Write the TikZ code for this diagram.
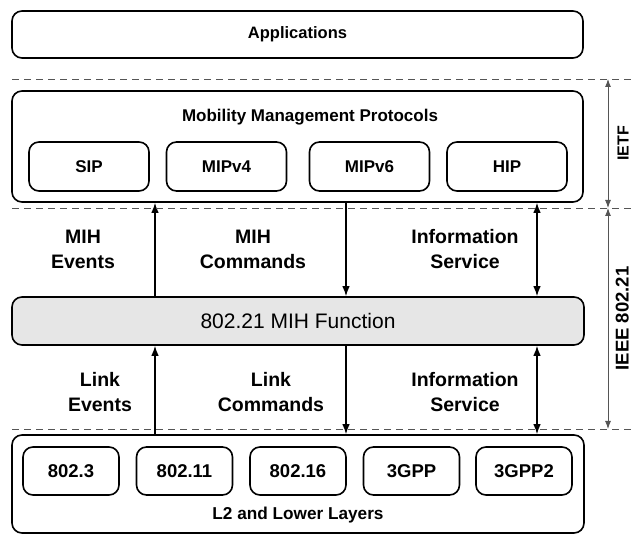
\documentclass[tikz,border=0pt]{standalone}
\usepackage{fontspec}
\setmainfont{Liberation Sans}
\usetikzlibrary{arrows.meta}
\newcommand{\fsz}[2][1.2]{\fontsize{#2bp}{#1\dimexpr #2bp\relax}\selectfont}
\definecolor{mihgray}{HTML}{E6E6E6}
\definecolor{rulegray}{HTML}{555555}

\begin{document}
\begin{tikzpicture}[>={Latex[length=10bp,width=7.5bp]},line join=bevel,
  layerbox/.style={draw,rounded corners=10bp,line width=1.6bp,inner sep=0pt},
  protobox/.style={layerbox,minimum width=120bp,minimum height=49bp,font=\fsz{17}\bfseries},
  linkbox/.style={layerbox,minimum width=96bp,minimum height=48bp,font=\fsz{18.5}\bfseries},
  flowlabel/.style={align=center,font=\fsz[1.28]{19.5}\bfseries,inner sep=0pt},
  flowarrow/.style={line width=1.3bp},
  dashline/.style={dashed,dash pattern=on 7bp off 5bp,line width=0.9bp,draw=rulegray},
  spanarrow/.style={line width=0.9bp,draw=rulegray,{Latex[length=8bp,width=6bp]}-{Latex[length=8bp,width=6bp]}}]
\useasboundingbox (0bp,0bp) rectangle (633bp,534bp);
%%
\node (node_app) at (297.5bp,499.5bp) [layerbox,minimum width=571bp,minimum height=47bp,font=\fsz{16.5}\bfseries] {Applications};
\node (node_mmp) at (297.5bp,387.5bp) [layerbox,minimum width=571bp,minimum height=111bp] {};
  \node (node_mmp_title) at (310bp,417bp) [font=\fsz{17}\bfseries] {Mobility Management Protocols};
  \node (node_sip) at (89bp,367.5bp) [protobox] {SIP};
  \node (node_mipv4) at (226.5bp,367.5bp) [protobox] {MIPv4};
  \node (node_mipv6) at (369.5bp,367.5bp) [protobox] {MIPv6};
  \node (node_hip) at (507bp,367.5bp) [protobox] {HIP};
\node (node_mih) at (298bp,213bp) [layerbox,fill=mihgray,minimum width=572bp,minimum height=48bp,font=\fsz{21}] {802.21 MIH Function};
\node (node_l2) at (298bp,50bp) [layerbox,minimum width=572bp,minimum height=98bp] {};
  \node (node_l2_title) at (298bp,19bp) [font=\fsz{17.2}\bfseries] {L2 and Lower Layers};
  \node (node_8023) at (71bp,63bp) [linkbox] {802.3};
  \node (node_80211) at (184.5bp,63bp) [linkbox] {802.11};
  \node (node_80216) at (298bp,63bp) [linkbox] {802.16};
  \node (node_3gpp) at (411.5bp,63bp) [linkbox] {3GPP};
  \node (node_3gpp2) at (524bp,63bp) [linkbox] {3GPP2};
%
\node (node_mih_ev) at (83bp,284.5bp) [flowlabel] {MIH\\Events};
  \node (node_mih_cmd) at (253bp,284.5bp) [flowlabel] {MIH\\Commands};
  \node (node_mih_is) at (465bp,284.5bp) [flowlabel] {Information\\Service};
  \node (node_link_ev) at (100bp,141.5bp) [flowlabel] {Link\\Events};
  \node (node_link_cmd) at (271bp,141.5bp) [flowlabel] {Link\\Commands};
  \node (node_link_is) at (465bp,141.5bp) [flowlabel] {Information\\Service};
%
\coordinate (col_ev) at (155bp,0bp);
  \coordinate (col_cmd) at (346bp,0bp);
  \coordinate (col_is) at (537bp,0bp);
  \draw [flowarrow,->] (col_ev |- node_mih.north) -- (col_ev |- node_mmp.south);
  \draw [flowarrow,->] (col_cmd |- node_mmp.south) -- (col_cmd |- node_mih.north);
  \draw [flowarrow,<->] (col_is |- node_mmp.south) -- (col_is |- node_mih.north);
  \draw [flowarrow,->] (col_ev |- node_l2.north) -- (col_ev |- node_mih.south);
  \draw [flowarrow,->] (col_cmd |- node_mih.south) -- (col_cmd |- node_l2.north);
  \draw [flowarrow,<->] (col_is |- node_mih.south) -- (col_is |- node_l2.north);
%
\coordinate (dash_ietf) at (12bp,455bp);
  \coordinate (dash_ieee) at (12bp,326bp);
  \coordinate (dash_l2) at (12bp,105bp);
  \draw [dashline] (dash_ietf) -- ++(621bp,0bp);
  \draw [dashline] (dash_ieee) -- ++(621bp,0bp);
  \draw [dashline] (dash_l2) -- ++(621bp,0bp);
  \coordinate (col_span) at (608bp,0bp);
  \draw [spanarrow] (col_span |- dash_ietf) -- (col_span |- dash_ieee);
  \draw [spanarrow] (col_span |- dash_ieee) -- (col_span |- dash_l2);
  \node (node_ietf) at (628.5bp,390.5bp) [rotate=90,anchor=base,font=\fsz{16}\bfseries,inner sep=0pt] {IETF};
  \node (node_ieee) at (628.5bp,215.5bp) [rotate=90,anchor=base,font=\fsz{18.5}\bfseries,inner sep=0pt] {IEEE 802.21};
%
\end{tikzpicture}
\end{document}
